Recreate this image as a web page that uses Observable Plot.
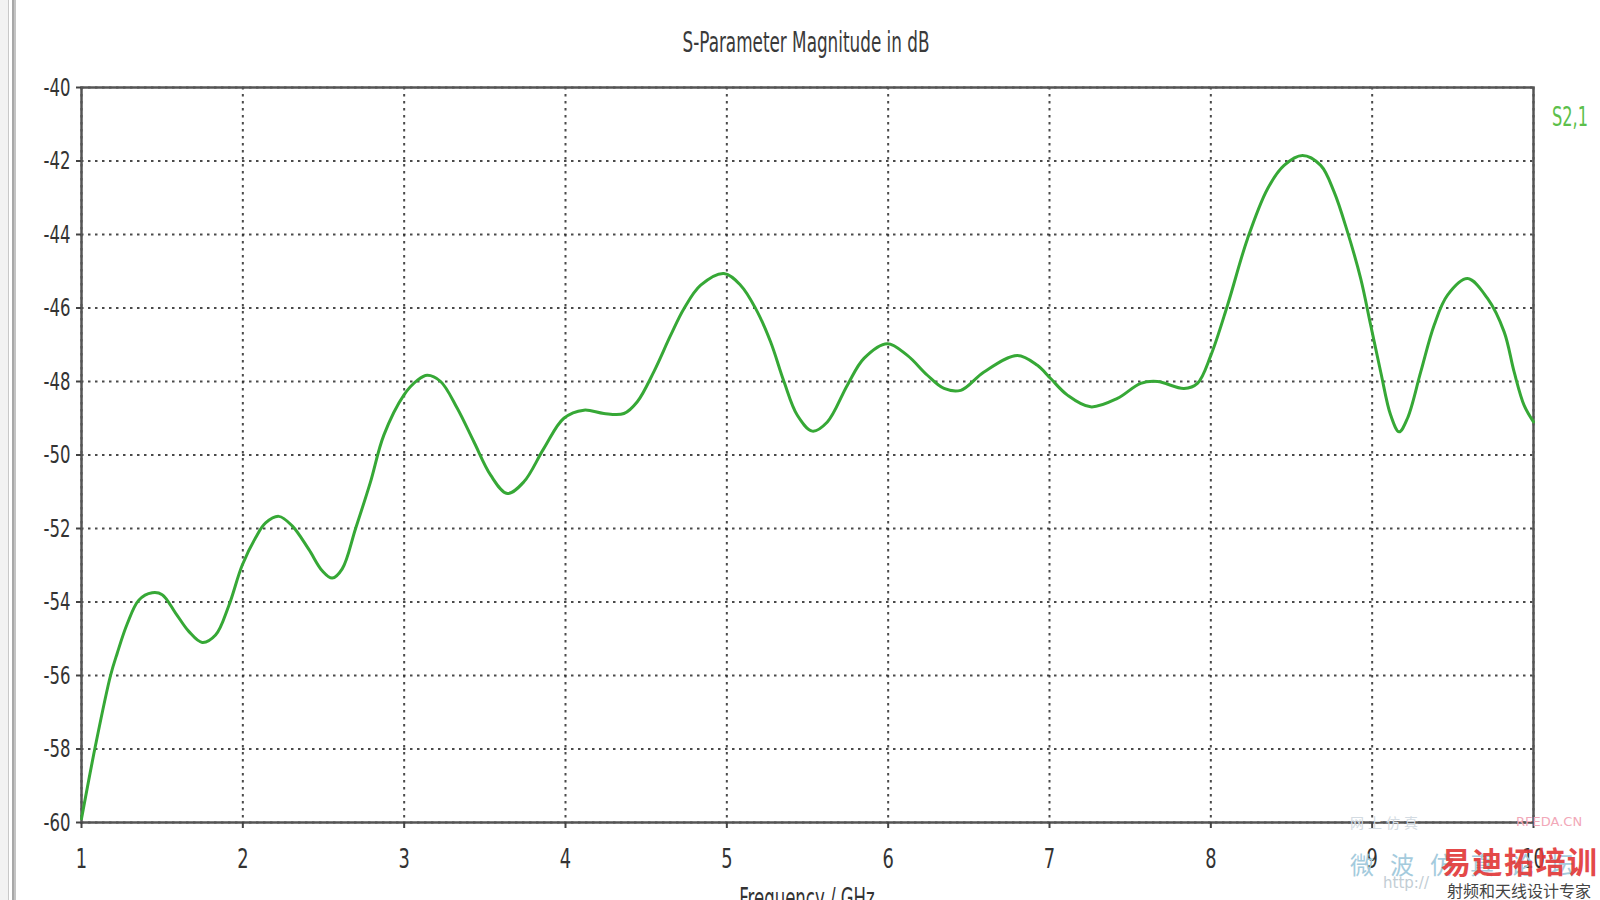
<!DOCTYPE html>
<html>
<head>
<meta charset="utf-8">
<script src="https://cdn.jsdelivr.net/npm/d3@7"></script>
<script src="https://cdn.jsdelivr.net/npm/@observablehq/plot@0.6"></script>
<style>
  html, body { margin: 0; padding: 0; background: #fff; }
  body { width: 1600px; height: 900px; overflow: hidden; position: relative; font-family: "DejaVu Sans", sans-serif; }
  .abs { position: absolute; white-space: nowrap; line-height: 1; }
  #chart { position: absolute; left: 0; top: 0; }
</style>
</head>
<body>
<div class="abs" style="left:0;top:0;width:8px;height:900px;background:#f2f2f2"></div>
<div class="abs" style="left:8px;top:0;width:1px;height:900px;background:#c8c8c8"></div>
<div class="abs" style="left:12px;top:0;width:2px;height:900px;background:#a8a8a8"></div>
<div class="abs" style="left:14px;top:0;width:2px;height:900px;background:#c4c4c4"></div>
<div id="chart"></div>
<div class="abs" id="title" style="left:806px;top:28px;font-size:29px;color:#3a3a3a;transform:translateX(-50%) scaleX(0.58);">S-Parameter Magnitude in dB</div>
<div class="abs" id="xlabel" style="left:807px;top:884px;font-size:29px;color:#333;transform:translateX(-50%) scaleX(0.57);">Frequency / GHz</div>
<div class="abs" id="legend" style="left:1552px;top:103px;font-size:27px;color:#5cbf4c;transform-origin:0 0;transform:scaleX(0.60);">S2,1</div>
<!-- watermark -->
<div class="abs" style="left:1350px;top:815px;font-size:14px;color:#d3dbe2;font-family:'Noto Sans CJK SC';letter-spacing:4px">网上仿真</div>
<div class="abs" style="left:1516px;top:815px;font-size:13px;color:#f2a8b8;">RFEDA.CN</div>
<div class="abs" style="left:1350px;top:852px;font-size:24px;color:#a4cbdd;font-family:'Noto Sans CJK SC';letter-spacing:16px">微波仿真论坛</div>
<div class="abs" style="left:1383px;top:876px;font-size:15px;color:#c2cdd4;">http://</div>
<div class="abs" style="left:1441px;top:845px;font-size:30px;color:#e23a3a;font-weight:bold;font-family:'Noto Sans CJK SC';letter-spacing:1.5px;opacity:0.92">易迪拓培训</div>
<div class="abs" style="left:1447px;top:882px;font-size:16px;color:#444;font-family:'Noto Sans CJK SC';">射频和天线设计专家</div>
<script>
// Frequency in GHz
const freq = [
  1.0, 1.087, 1.18, 1.221, 1.283, 1.355, 1.438, 1.5, 1.583, 1.665, 1.748, 1.831, 1.913, 1.996,
  2.079, 2.141, 2.223, 2.306, 2.409, 2.492, 2.554, 2.616, 2.699, 2.79, 2.874, 2.998,
  3.081, 3.143, 3.226, 3.329, 3.432, 3.536, 3.639, 3.742, 3.866, 3.99,
  4.114, 4.238, 4.362, 4.445, 4.548, 4.652, 4.734, 4.838, 4.982,
  5.085, 5.178, 5.271, 5.354, 5.437, 5.53, 5.623, 5.747, 5.85, 5.995,
  6.119, 6.243, 6.346, 6.45, 6.594, 6.801, 6.925,
  7.007, 7.111, 7.255, 7.421, 7.565, 7.669, 7.834, 7.917,
  8.0, 8.103, 8.227, 8.351, 8.454, 8.568, 8.681, 8.764, 8.847, 8.929, 8.991,
  9.053, 9.115, 9.167, 9.219, 9.301, 9.384, 9.467, 9.591, 9.715, 9.818, 9.88, 9.942, 10.0
];
// S2,1 magnitude in dB
const s21 = [
  -59.9, -57.9, -56.0, -55.4, -54.6, -53.95, -53.75, -53.8, -54.3, -54.8, -55.1, -54.9, -54.1, -53.0,
  -52.25, -51.85, -51.67, -51.93, -52.57, -53.15, -53.35, -53.1, -52.0, -50.75, -49.46, -48.37,
  -47.97, -47.83, -48.0, -48.73, -49.64, -50.55, -51.05, -50.73, -49.82, -49.0,
  -48.78, -48.87, -48.87, -48.55, -47.73, -46.74, -46.02, -45.38, -45.06,
  -45.38, -46.01, -46.92, -48.0, -48.92, -49.35, -49.1, -48.1, -47.37, -46.97,
  -47.29, -47.83, -48.19, -48.24, -47.74, -47.29, -47.56,
  -47.92, -48.37, -48.69, -48.46, -48.05, -48.0, -48.19, -48.05,
  -47.29, -45.93, -44.12, -42.76, -42.12, -41.85, -42.12, -42.84, -43.93, -45.2, -46.47,
  -47.74, -48.92, -49.37, -49.0, -47.74, -46.47, -45.65, -45.2, -45.74, -46.65, -47.74, -48.65, -49.1
];
const xTicks = [1, 2, 3, 4, 5, 6, 7, 8, 9, 10];
const yTicks = [-60, -58, -56, -54, -52, -50, -48, -46, -44, -42, -40];
const yTickLabels = ["-60", "-58", "-56", "-54", "-52", "-50", "-48", "-46", "-44", "-42", "-40"];

const data = freq.map((f, i) => ({f, db: s21[i]}));

const gridStyle = {stroke: "#2a2a2a", strokeOpacity: 0.85, strokeWidth: 2, strokeDasharray: "2.5,4.5"};

const chart = Plot.plot({
  width: 1600,
  height: 900,
  marginLeft: 81,
  marginRight: 67,
  marginTop: 87,
  marginBottom: 78,
  style: {fontFamily: "DejaVu Sans", background: "transparent", color: "#333"},
  x: {domain: [1, 10]},
  y: {domain: [-60, -40]},
  marks: [
    Plot.gridX({ticks: xTicks, ...gridStyle}),
    Plot.gridY({ticks: yTicks, ...gridStyle}),
    Plot.frame({stroke: "#555", strokeWidth: 2.5}),
    Plot.line(data, {x: "f", y: "db", stroke: "#36a836", strokeWidth: 3, curve: "catmull-rom"}),
    Plot.axisX({ticks: xTicks, tickSize: 6, tickPadding: 20, fontSize: 27, label: null, stroke: "#444", strokeWidth: 2}),
    Plot.axisY({ticks: yTicks, tickFormat: d => yTickLabels[yTicks.indexOf(d)], tickSize: 5, tickPadding: 6, fontSize: 25, label: null, stroke: "#444", strokeWidth: 2})
  ]
});
document.getElementById("chart").appendChild(chart);
chart.querySelectorAll('g[aria-label$="tick label"] text').forEach(t => {
  const tr = t.getAttribute("transform") || "";
  t.setAttribute("transform", tr + " scale(0.66,1)");
});
</script>
</body>
</html>
